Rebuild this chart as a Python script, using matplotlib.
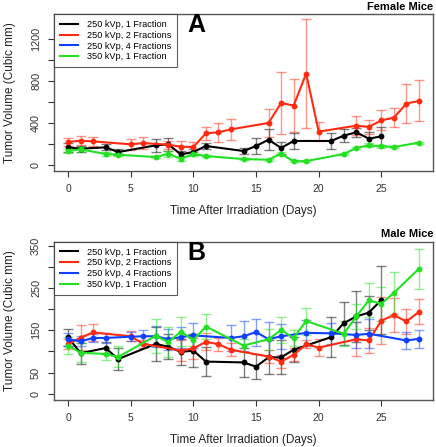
import numpy as np
import matplotlib
matplotlib.use('Agg')
import matplotlib.pyplot as plt

labels = ['250 kVp, 1 Fraction', '250 kVp, 2 Fractions', '250 kVp, 4 Fractions', '350 kVp, 1 Fraction']
colors = ['#000000', '#FF2A10', '#1040FF', '#22E022']

# Panel A: female mice
fA_black_day = [0, 1, 3, 4, 7, 8, 9, 10, 11, 14, 15, 16, 17, 18, 21, 22, 23, 24, 25]
fA_black_val = [166, 153, 166, 121, 185, 195, 99, 121, 179, 131, 179, 239, 160, 227, 227, 278, 310, 249, 271]
fA_black_err = [40, 30, 30, 30, 60, 60, 30, 30, 30, 30, 80, 100, 60, 80, 80, 60, 45, 60, 90]

fA_red_day = [0, 1, 2, 5, 6, 8, 9, 10, 11, 12, 13, 16, 17, 18, 19, 20, 23, 24, 25, 26, 27, 28]
fA_red_val = [217, 230, 223, 195, 207, 191, 172, 169, 300, 310, 338, 399, 590, 565, 871, 316, 373, 361, 424, 450, 584, 610]
fA_red_err = [40, 45, 45, 50, 60, 40, 50, 45, 60, 90, 100, 130, 300, 255, 520, 90, 90, 70, 95, 90, 190, 195]

fA_green_day = [0, 1, 3, 4, 7, 8, 9, 10, 11, 14, 16, 17, 18, 19, 22, 23, 24, 25, 26, 28]
fA_green_val = [131, 147, 102, 96, 73, 105, 57, 102, 83, 54, 48, 105, 32, 35, 102, 160, 185, 176, 169, 211]
fA_green_err = [20, 25, 20, 15, 10, 30, 25, 20, 10, 10, 10, 15, 10, 10, 10, 10, 20, 15, 10, 10]

# Panel B: male mice
mB_black_day = [0, 1, 3, 4, 7, 8, 9, 10, 11, 14, 15, 16, 17, 18, 21, 22, 23, 24, 25]
mB_black_val = [134, 96, 108, 82, 118, 111, 99, 102, 76, 74, 64, 86, 86, 104, 134, 167, 183, 192, 222]
mB_black_err = [20, 25, 15, 25, 40, 30, 30, 40, 35, 35, 30, 40, 40, 30, 47, 51, 60, 40, 80]

mB_red_day = [0, 1, 2, 5, 6, 9, 10, 11, 12, 13, 16, 17, 18, 19, 20, 23, 24, 25, 26, 27, 28]
mB_red_val = [117, 133, 145, 136, 118, 102, 107, 123, 117, 104, 88, 76, 92, 117, 109, 129, 126, 173, 186, 171, 194]
mB_red_err = [12, 30, 20, 12, 10, 25, 25, 20, 15, 15, 15, 15, 15, 10, 20, 40, 30, 55, 40, 30, 30]

mB_blue_day = [0, 1, 2, 3, 5, 6, 7, 8, 9, 10, 13, 14, 15, 16, 17, 19, 21, 23, 24, 27, 28]
mB_blue_val = [129, 124, 132, 132, 135, 136, 136, 129, 134, 138, 132, 136, 146, 129, 136, 144, 143, 139, 142, 126, 130]
mB_blue_err = [15, 12, 10, 12, 10, 15, 25, 25, 25, 30, 30, 35, 32, 40, 30, 30, 25, 30, 35, 20, 22]

mB_green_day = [0, 1, 3, 4, 7, 8, 9, 10, 11, 14, 16, 17, 18, 19, 22, 23, 24, 25, 26, 28]
mB_green_val = [114, 97, 94, 87, 137, 122, 147, 127, 159, 114, 129, 151, 132, 172, 142, 183, 221, 213, 239, 296]
mB_green_err = [20, 22, 15, 25, 40, 35, 35, 15, 30, 15, 25, 30, 20, 32, 30, 30, 40, 40, 50, 47]

panelA = [(fA_black_day, fA_black_val, fA_black_err, 0),
          (fA_red_day, fA_red_val, fA_red_err, 1),
          (fA_green_day, fA_green_val, fA_green_err, 3)]
panelB = [(mB_black_day, mB_black_val, mB_black_err, 0),
          (mB_red_day, mB_red_val, mB_red_err, 1),
          (mB_blue_day, mB_blue_val, mB_blue_err, 2),
          (mB_green_day, mB_green_val, mB_green_err, 3)]

plt.rcParams['font.family'] = ['Liberation Sans', 'DejaVu Sans']

W, H = 436, 447
fig = plt.figure(figsize=(W / 100, H / 100), dpi=100)
axA = fig.add_axes([54 / W, 1 - 171 / H, 379 / W, 157 / H])
axB = fig.add_axes([54 / W, 1 - 400 / H, 379 / W, 158.3 / H])

gray = '#555555'


def draw(ax, series, ylim, yticks, ylabs, letter, title, xlab_y):
    for day, val, err, k in series:
        ax.errorbar(day, val, yerr=err, fmt='none', ecolor=colors[k], alpha=0.5,
                    elinewidth=1.0, capsize=3.5, capthick=1.0, zorder=2)
    for day, val, err, k in series:
        ax.plot(day, val, '-o', color=colors[k], lw=1.5, ms=3.2, zorder=3)
    handles = [plt.Line2D([], [], color=c, lw=1.5) for c in colors]
    leg = ax.legend(handles, labels, loc='upper left', bbox_to_anchor=(0, 1),
                    fontsize=6.6, frameon=True, fancybox=False, borderaxespad=0,
                    handlelength=2.0, labelspacing=0.2, borderpad=0.65,
                    handletextpad=0.9)
    leg.get_frame().set_edgecolor('#333333')
    leg.get_frame().set_linewidth(0.8)
    ax.set_xlim(-1.12, 29.12)
    ax.set_ylim(*ylim)
    ax.set_xticks([0, 5, 10, 15, 20, 25])
    ax.set_yticks(yticks)
    ax.set_yticklabels(ylabs)
    ax.tick_params(colors='#333333', length=4.3, width=0.8, pad=5)
    ax.tick_params(axis='x', labelsize=7.5)
    ax.tick_params(axis='y', labelsize=7.8, labelrotation=90)
    for t in ax.get_yticklabels():
        t.set_va('center')
    for s in ax.spines.values():
        s.set_color(gray)
        s.set_linewidth(1.0)
    ax.text(0.376, 0.93, letter, transform=ax.transAxes, fontsize=18,
            fontweight='bold', ha='center', va='center')
    ax.text(1.0, 1.015, title, transform=ax.transAxes, fontsize=8,
            fontweight='bold', ha='right', va='bottom')
    pos = ax.get_position()
    fig.text(10 / W, (pos.y0 + pos.y1) / 2, 'Tumor Volume (Cubic mm)', rotation=90,
             ha='center', va='center', fontsize=8.5, color='#222222')
    fig.text((pos.x0 + pos.x1) / 2, 1 - xlab_y / H, 'Time After Irradiation (Days)',
             ha='center', va='center', fontsize=8.5, color='#222222')


ytA = [0, 200, 400, 600, 800, 1000, 1200]
draw(axA, panelA, (-60, 1440), ytA,
     ['0', '', '400', '', '800', '', '1200'], 'A', 'Female Mice', 211)
ytB = [0, 50, 100, 150, 200, 250, 300, 350]
draw(axB, panelB, (-15, 360), ytB,
     ['0', '50', '', '150', '', '250', '', '350'], 'B', 'Male Mice', 440)

fig.savefig('out.png', dpi=100)
